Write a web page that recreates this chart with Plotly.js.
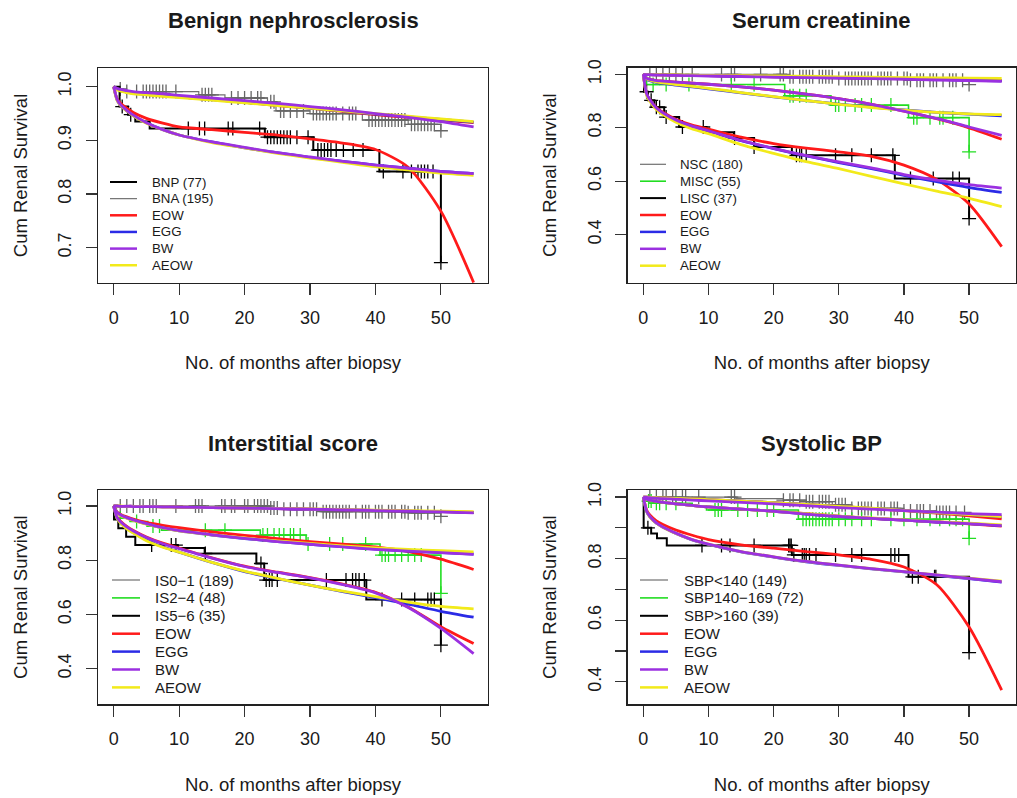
<!DOCTYPE html>
<html><head><meta charset="utf-8">
<script src="https://cdn.plot.ly/plotly-3.0.1.min.js"></script>
<style>html,body{margin:0;padding:0;background:#fff;} #chart{width:1017px;height:798px;}</style>
</head><body><div id="chart"></div>
<script>
// ---------------- DATA ----------------
const T = [0, 0.5, 1, 2, 3, 5, 7.5, 10, 15, 20, 25, 30, 35, 40, 45, 50, 55];
const modelNames = ["EOW", "EGG", "BW", "AEOW"];

// Panel 1: Benign nephrosclerosis
const p1Title = "Benign nephrosclerosis";
const p1Groups = ["BNP (77)", "BNA (195)"];
const bnpTime = [0, 0.9, 2.2, 3.3, 5.5, 23.1, 30.5, 40.6, 50];
const bnpSurv = [1, 0.963, 0.948, 0.935, 0.922, 0.906, 0.882, 0.842, 0.672];
const bnpCens = [1.3, 2.6, 11.4, 13.1, 13.9, 17.5, 18.2, 22.3, 23.5, 24, 24.5, 25, 25.5, 26, 26.5, 27, 28, 29.7, 31.2, 31.7, 32.2, 32.7, 33.2, 34, 35.1, 36.6, 38.1, 41.2, 44.2, 45.5, 46.5, 47, 47.5, 48, 48.8, 50];
const bnaTime = [0, 0.5, 1.5, 13, 17, 23.5, 24.8, 30, 38, 45, 50];
const bnaSurv = [1, 0.996, 0.991, 0.985, 0.979, 0.972, 0.955, 0.950, 0.938, 0.930, 0.918];
const bnaCens = [1, 2, 3.5, 4.5, 5, 5.5, 6, 6.5, 7, 7.5, 8, 9.5, 13.5, 14, 14.5, 15, 18, 19, 20, 21, 22, 22.5, 24, 24.5, 25.5, 26, 27, 28, 29, 30.5, 31, 31.5, 32, 32.5, 33, 33.5, 34, 35, 36, 36.5, 37, 39, 39.5, 40, 40.5, 41, 41.5, 42, 42.5, 43, 43.5, 44, 44.5, 45.5, 46, 46.5, 47, 47.5, 48, 48.5, 49, 50];
const bnpEOW  = [1, 0.978, 0.970, 0.960, 0.952, 0.941, 0.932, 0.925, 0.920, 0.915, 0.910, 0.903, 0.895, 0.883, 0.850, 0.768, 0.635];
const bnpEGG  = [1, 0.976, 0.966, 0.955, 0.946, 0.933, 0.920, 0.910, 0.897, 0.886, 0.877, 0.868, 0.861, 0.854, 0.848, 0.842, 0.838];
const bnpBW   = [1, 0.977, 0.967, 0.956, 0.947, 0.933, 0.920, 0.910, 0.897, 0.887, 0.877, 0.869, 0.861, 0.854, 0.848, 0.842, 0.838];
const bnpAEOW = [1, 0.975, 0.966, 0.955, 0.946, 0.932, 0.920, 0.910, 0.896, 0.886, 0.876, 0.867, 0.859, 0.851, 0.845, 0.839, 0.835];
const bnaEOW  = [1, 0.996, 0.993, 0.990, 0.988, 0.986, 0.983, 0.981, 0.976, 0.971, 0.965, 0.960, 0.954, 0.948, 0.943, 0.938, 0.933];
const bnaEGG  = [1, 0.996, 0.993, 0.990, 0.988, 0.986, 0.984, 0.981, 0.976, 0.971, 0.966, 0.960, 0.955, 0.949, 0.944, 0.939, 0.934];
const bnaBW   = [1, 0.997, 0.995, 0.993, 0.991, 0.989, 0.987, 0.984, 0.979, 0.974, 0.969, 0.963, 0.957, 0.950, 0.943, 0.935, 0.925];
const bnaAEOW = [1, 0.995, 0.992, 0.989, 0.987, 0.985, 0.982, 0.980, 0.975, 0.970, 0.965, 0.960, 0.955, 0.950, 0.945, 0.940, 0.935];

// Panel 2: Serum creatinine
const p2Title = "Serum creatinine";
const p2Groups = ["NSC (180)", "MISC (55)", "LISC (37)"];
const nscTime = [0, 22, 30, 41, 50];
const nscSurv = [1, 0.991, 0.985, 0.978, 0.962];
const nscCens = [1, 2, 3, 4, 5, 6, 7.5, 12, 13.5, 14, 18, 21, 21.5, 22.5, 23, 24, 24.5, 25, 25.5, 26, 27, 27.5, 28, 28.5, 29, 30, 31, 31.5, 32, 32.5, 33, 33.5, 34, 34.5, 35, 36, 36.5, 37, 37.5, 38, 39, 40, 40.5, 41, 42, 42.5, 43, 44, 44.5, 45, 46, 47, 47.5, 48, 49, 50];
const miscTime = [0, 0.5, 21.7, 28.8, 40.7, 50];
const miscSurv = [1, 0.962, 0.920, 0.885, 0.838, 0.710];
const miscCens = [1.5, 3.5, 7, 13.5, 17, 22.5, 23, 24, 25, 29.5, 30, 31, 32.5, 33.5, 35, 38, 41.5, 42, 44, 45.5, 46, 47.5, 50];
const liscTime = [0, 0.1, 0.7, 1.7, 3.2, 5.5, 9.7, 13.9, 17, 22.8, 38.6, 50];
const liscSurv = [1, 0.935, 0.903, 0.877, 0.840, 0.803, 0.783, 0.762, 0.728, 0.697, 0.610, 0.460];
const liscCens = [0.5, 1.2, 2, 2.5, 3.5, 6, 9.2, 14, 17, 23.5, 24, 24.3, 25, 29.5, 32, 35, 38.3, 41, 44.5, 47.5, 48.5, 50];
const nscEOW  = [1, 0.999, 0.999, 0.998, 0.998, 0.997, 0.996, 0.995, 0.993, 0.991, 0.989, 0.987, 0.985, 0.983, 0.981, 0.979, 0.977];
const nscEGG  = [1, 0.999, 0.999, 0.998, 0.998, 0.997, 0.996, 0.995, 0.993, 0.991, 0.989, 0.987, 0.985, 0.983, 0.981, 0.978, 0.976];
const nscBW   = [1, 0.999, 0.999, 0.998, 0.997, 0.996, 0.995, 0.994, 0.992, 0.990, 0.988, 0.986, 0.984, 0.982, 0.979, 0.977, 0.974];
const nscAEOW = [1, 0.999, 0.999, 0.999, 0.998, 0.998, 0.997, 0.996, 0.995, 0.994, 0.993, 0.991, 0.990, 0.988, 0.987, 0.986, 0.985];
const miscEOW  = [1, 0.985, 0.981, 0.977, 0.975, 0.971, 0.967, 0.963, 0.953, 0.941, 0.926, 0.909, 0.888, 0.862, 0.834, 0.800, 0.757];
const miscEGG  = [1, 0.982, 0.976, 0.970, 0.966, 0.960, 0.953, 0.946, 0.931, 0.916, 0.902, 0.889, 0.877, 0.867, 0.858, 0.851, 0.845];
const miscBW   = [1, 0.985, 0.981, 0.977, 0.975, 0.971, 0.967, 0.963, 0.953, 0.941, 0.926, 0.909, 0.888, 0.862, 0.835, 0.803, 0.772];
const miscAEOW = [1, 0.984, 0.978, 0.972, 0.968, 0.962, 0.955, 0.948, 0.932, 0.917, 0.902, 0.888, 0.876, 0.866, 0.858, 0.852, 0.849];
const liscEOW  = [1, 0.928, 0.906, 0.876, 0.858, 0.832, 0.810, 0.795, 0.765, 0.741, 0.724, 0.710, 0.693, 0.660, 0.607, 0.515, 0.355];
const liscEGG  = [1, 0.926, 0.904, 0.873, 0.855, 0.828, 0.805, 0.788, 0.752, 0.722, 0.695, 0.670, 0.647, 0.622, 0.598, 0.576, 0.558];
const liscBW   = [1, 0.927, 0.905, 0.874, 0.856, 0.829, 0.806, 0.789, 0.753, 0.723, 0.696, 0.672, 0.650, 0.625, 0.604, 0.587, 0.574];
const liscAEOW = [1, 0.922, 0.899, 0.868, 0.849, 0.821, 0.796, 0.778, 0.737, 0.704, 0.673, 0.647, 0.618, 0.590, 0.563, 0.536, 0.505];

// Panel 3: Interstitial score
const p3Title = "Interstitial score";
const p3Groups = ["IS0\u22121 (189)", "IS2\u22124 (48)", "IS5\u22126 (35)"];
const is01Time = [0, 23.8, 26, 31.8, 45, 50];
const is01Surv = [1, 0.993, 0.988, 0.979, 0.975, 0.962];
const is01Cens = [1, 2, 3, 4, 4.5, 5.5, 6, 6.5, 9.5, 12.5, 13, 13.5, 16.5, 17, 18, 18.5, 20, 20.5, 21.5, 22, 22.5, 23, 23.5, 24, 24.5, 25, 26, 27, 28, 29, 30, 30.5, 31, 32, 32.5, 33, 33.5, 34, 34.5, 35, 35.5, 36, 37, 38, 38.5, 39, 40, 40.5, 41, 42, 42.5, 43, 44, 44.5, 45, 46, 46.5, 47, 48, 49, 50];
const is24Time = [0, 0.4, 2.5, 5.2, 7.3, 22.4, 29.4, 40.7, 50];
const is24Surv = [1, 0.955, 0.943, 0.926, 0.911, 0.893, 0.860, 0.819, 0.678];
const is24Cens = [1, 3.5, 6, 7, 14, 17, 22.8, 23.5, 24.5, 25.3, 26, 27, 27.5, 28.5, 29.7, 33, 35, 38.5, 41, 41.5, 42, 43, 44, 45, 46, 47, 50];
const is56Time = [0, 0.05, 0.7, 1.9, 3.3, 9.8, 13.9, 21.8, 23, 38.6, 50];
const is56Surv = [1, 0.950, 0.918, 0.887, 0.856, 0.845, 0.825, 0.788, 0.727, 0.655, 0.487];
const is56Cens = [5.8, 8.8, 9.5, 14, 22.5, 23.3, 23.8, 24.2, 25, 32.5, 35.5, 36.5, 37, 37.5, 38.3, 41, 44, 46, 48, 48.5, 49, 50];
const is01EOW  = [1, 1, 0.999, 0.999, 0.999, 0.998, 0.997, 0.996, 0.994, 0.992, 0.990, 0.988, 0.986, 0.984, 0.981, 0.979, 0.976];
const is01EGG  = [1, 1, 0.999, 0.999, 0.999, 0.998, 0.997, 0.996, 0.994, 0.992, 0.990, 0.988, 0.986, 0.984, 0.981, 0.979, 0.976];
const is01BW   = [1, 1, 0.999, 0.999, 0.998, 0.998, 0.997, 0.996, 0.994, 0.992, 0.990, 0.988, 0.986, 0.983, 0.981, 0.978, 0.975];
const is01AEOW = [1, 1, 1, 0.999, 0.999, 0.998, 0.997, 0.996, 0.994, 0.992, 0.991, 0.989, 0.987, 0.985, 0.983, 0.981, 0.979];
const is24EOW  = [1, 0.978, 0.970, 0.960, 0.952, 0.940, 0.929, 0.920, 0.905, 0.892, 0.880, 0.869, 0.859, 0.849, 0.832, 0.804, 0.766];
const is24EGG  = [1, 0.975, 0.967, 0.956, 0.948, 0.934, 0.919, 0.908, 0.893, 0.880, 0.869, 0.859, 0.850, 0.841, 0.834, 0.828, 0.823];
const is24BW   = [1, 0.976, 0.968, 0.957, 0.949, 0.935, 0.920, 0.909, 0.894, 0.881, 0.869, 0.859, 0.849, 0.840, 0.834, 0.828, 0.822];
const is24AEOW = [1, 0.975, 0.966, 0.955, 0.947, 0.933, 0.919, 0.908, 0.894, 0.882, 0.871, 0.862, 0.853, 0.846, 0.840, 0.835, 0.831];
const is56EOW  = [1, 0.960, 0.945, 0.925, 0.910, 0.886, 0.863, 0.845, 0.809, 0.778, 0.756, 0.736, 0.712, 0.682, 0.628, 0.555, 0.493];
const is56EGG  = [1, 0.955, 0.940, 0.918, 0.902, 0.875, 0.850, 0.830, 0.792, 0.758, 0.732, 0.708, 0.684, 0.662, 0.638, 0.612, 0.590];
const is56BW   = [1, 0.958, 0.943, 0.923, 0.908, 0.884, 0.861, 0.843, 0.808, 0.777, 0.755, 0.735, 0.710, 0.680, 0.626, 0.549, 0.456];
const is56AEOW = [1, 0.955, 0.938, 0.916, 0.900, 0.872, 0.848, 0.830, 0.792, 0.760, 0.733, 0.708, 0.686, 0.666, 0.646, 0.630, 0.621];

// Panel 4: Systolic BP
const p4Title = "Systolic BP";
const p4Groups = ["SBP<140 (149)", "SBP140\u2212169 (72)", "SBP>160 (39)"];
const sbp1Time = [0, 14.2, 21.5, 25, 29, 32, 39.7, 45];
const sbp1Surv = [1, 0.995, 0.990, 0.985, 0.975, 0.963, 0.955, 0.950];
const sbp1Cens = [1, 2, 3, 3.5, 4.5, 5, 6, 6.5, 8.5, 13.5, 14, 21.5, 22.5, 23, 24, 25, 25.5, 26, 27, 27.5, 28, 28.5, 29.5, 30, 30.5, 31, 32, 33, 33.5, 34, 34.5, 35, 36, 36.5, 37, 38, 38.5, 39, 40, 41, 42, 42.5, 43, 44, 45, 45.5, 46, 46.5, 47, 48, 49.3];
const sbp2Time = [0, 0.3, 1.5, 7.5, 9.7, 23.8, 50];
const sbp2Surv = [1, 0.987, 0.980, 0.972, 0.958, 0.928, 0.866];
const sbp2Cens = [0.8, 1.2, 2, 2.5, 3.5, 5, 11, 11.5, 12, 14.5, 16, 17.5, 19, 20, 24.5, 25, 25.5, 26, 26.5, 27, 27.5, 28, 28.5, 29, 30, 31, 32, 33.5, 35, 38, 40, 42, 44, 45.5, 47, 48, 49, 50];
const sbp3Time = [0, 0.05, 1.2, 2.1, 3.6, 22.8, 40.7, 50];
const sbp3Surv = [1, 0.900, 0.882, 0.866, 0.843, 0.812, 0.741, 0.495];
const sbp3Cens = [0.7, 9, 12, 13.3, 17, 22.3, 22.5, 22.7, 23.1, 24.4, 24.7, 25, 25.5, 26.5, 29.5, 32, 33.5, 38, 38.6, 39.2, 41.3, 42.2, 44.7, 44.9, 50];
const sbp1EOW  = [1, 1, 0.999, 0.998, 0.997, 0.996, 0.994, 0.992, 0.987, 0.982, 0.976, 0.970, 0.963, 0.956, 0.948, 0.939, 0.929];
const sbp1EGG  = [1, 1, 0.999, 0.998, 0.997, 0.996, 0.994, 0.992, 0.987, 0.982, 0.976, 0.970, 0.963, 0.957, 0.950, 0.943, 0.936];
const sbp1BW   = [1, 0.999, 0.998, 0.996, 0.995, 0.993, 0.990, 0.988, 0.983, 0.978, 0.972, 0.966, 0.961, 0.956, 0.951, 0.946, 0.943];
const sbp1AEOW = [1, 1, 0.999, 0.998, 0.997, 0.996, 0.994, 0.992, 0.987, 0.982, 0.976, 0.970, 0.964, 0.957, 0.950, 0.943, 0.937];
const sbp2EOW  = [1, 0.993, 0.990, 0.986, 0.983, 0.978, 0.973, 0.968, 0.961, 0.954, 0.946, 0.938, 0.931, 0.925, 0.919, 0.913, 0.906];
const sbp2EGG  = [1, 0.993, 0.990, 0.986, 0.983, 0.978, 0.973, 0.968, 0.961, 0.954, 0.945, 0.937, 0.931, 0.925, 0.919, 0.914, 0.907];
const sbp2BW   = [1, 0.993, 0.990, 0.986, 0.983, 0.978, 0.973, 0.968, 0.961, 0.954, 0.945, 0.937, 0.931, 0.925, 0.919, 0.914, 0.907];
const sbp2AEOW = [1, 0.993, 0.990, 0.986, 0.983, 0.978, 0.973, 0.968, 0.961, 0.954, 0.946, 0.938, 0.932, 0.926, 0.920, 0.915, 0.910];
const sbp3EOW  = [1, 0.958, 0.942, 0.923, 0.911, 0.893, 0.876, 0.862, 0.845, 0.834, 0.823, 0.812, 0.798, 0.773, 0.716, 0.578, 0.373];
const sbp3EGG  = [1, 0.953, 0.936, 0.915, 0.902, 0.882, 0.861, 0.846, 0.822, 0.805, 0.790, 0.778, 0.767, 0.757, 0.746, 0.735, 0.724];
const sbp3BW   = [1, 0.955, 0.937, 0.916, 0.903, 0.883, 0.862, 0.847, 0.823, 0.806, 0.791, 0.779, 0.768, 0.758, 0.747, 0.736, 0.725];
const sbp3AEOW = [1, 0.954, 0.936, 0.915, 0.902, 0.882, 0.862, 0.847, 0.823, 0.806, 0.791, 0.779, 0.768, 0.758, 0.747, 0.737, 0.727];

const xTicks = [0, 10, 20, 30, 40, 50];
const xTitle = "No. of months after biopsy";
const yTitle = "Cum Renal Survival";

// ---------------- STYLE ----------------
const W = 1017, H = 798;
const FONT = "Liberation Sans, Arial, Helvetica, sans-serif";
const TXT = "#1a1a1a";
const C = {black: "#000000", gray: "#707070", green: "#22DD22", EOW: "#FF1A1A", EGG: "#2B2BE6", BW: "#9B30E0", AEOW: "#F2EA1A"};
const MW = {EOW: 2.8, EGG: 2.8, BW: 2.8, AEOW: 2.8};

const px2x = p => p / W;
const px2y = p => 1 - p / H;

function stepAt(times, surv, t) {
  let s = surv[0];
  for (let i = 0; i < times.length; i++) if (times[i] <= t) s = surv[i];
  return s;
}

const traces = [];
function addKM(ax, times, surv, cens, color, width, markColor) {
  const x = times.slice(), y = surv.slice();
  const last = cens.length ? cens[cens.length - 1] : x[x.length - 1];
  if (last > x[x.length - 1]) { x.push(last); y.push(y[y.length - 1]); }
  traces.push({type: "scatter", mode: "lines", x: x, y: y, xaxis: "x" + ax, yaxis: "y" + ax,
    line: {color: color, width: width, shape: "hv"}, hoverinfo: "skip", showlegend: false});
  traces.push({type: "scatter", mode: "markers", x: cens, y: cens.map(c => stepAt(times, surv, c)),
    xaxis: "x" + ax, yaxis: "y" + ax, hoverinfo: "skip", showlegend: false,
    marker: {symbol: "cross-thin", size: 10, line: {width: 1.3, color: markColor}}});
}
function addFits(ax, fits) {
  ["EOW", "EGG", "AEOW", "BW"].forEach(m => {
    fits.forEach(f => {
      traces.push({type: "scatter", mode: "lines", x: T, y: f[m], xaxis: "x" + ax, yaxis: "y" + ax,
        line: {color: C[m], width: MW[m], shape: "spline", smoothing: 0.7}, hoverinfo: "skip", showlegend: false});
    });
  });
}

// Panel 1
addKM("", bnaTime, bnaSurv, bnaCens, C.gray, 1.2, "#666666");
addKM("", bnpTime, bnpSurv, bnpCens, C.black, 2, "#000000");
addFits("", [{EOW: bnaEOW, EGG: bnaEGG, BW: bnaBW, AEOW: bnaAEOW}, {EOW: bnpEOW, EGG: bnpEGG, BW: bnpBW, AEOW: bnpAEOW}]);
// Panel 2
addKM("2", nscTime, nscSurv, nscCens, C.gray, 1.2, "#666666");
addKM("2", miscTime, miscSurv, miscCens, C.green, 1.6, C.green);
addKM("2", liscTime, liscSurv, liscCens, C.black, 2, "#000000");
addFits("2", [{EOW: nscEOW, EGG: nscEGG, BW: nscBW, AEOW: nscAEOW}, {EOW: miscEOW, EGG: miscEGG, BW: miscBW, AEOW: miscAEOW}, {EOW: liscEOW, EGG: liscEGG, BW: liscBW, AEOW: liscAEOW}]);
// Panel 3
addKM("3", is01Time, is01Surv, is01Cens, C.gray, 1.2, "#666666");
addKM("3", is24Time, is24Surv, is24Cens, C.green, 1.6, C.green);
addKM("3", is56Time, is56Surv, is56Cens, C.black, 2, "#000000");
addFits("3", [{EOW: is01EOW, EGG: is01EGG, BW: is01BW, AEOW: is01AEOW}, {EOW: is24EOW, EGG: is24EGG, BW: is24BW, AEOW: is24AEOW}, {EOW: is56EOW, EGG: is56EGG, BW: is56BW, AEOW: is56AEOW}]);
// Panel 4
addKM("4", sbp1Time, sbp1Surv, sbp1Cens, C.gray, 1.2, "#666666");
addKM("4", sbp2Time, sbp2Surv, sbp2Cens, C.green, 1.6, C.green);
addKM("4", sbp3Time, sbp3Surv, sbp3Cens, C.black, 2, "#000000");
addFits("4", [{EOW: sbp1EOW, EGG: sbp1EGG, BW: sbp1BW, AEOW: sbp1AEOW}, {EOW: sbp2EOW, EGG: sbp2EGG, BW: sbp2BW, AEOW: sbp2AEOW}, {EOW: sbp3EOW, EGG: sbp3EGG, BW: sbp3BW, AEOW: sbp3AEOW}]);

const panels = [
  {ax: "", box: [98, 488, 68, 283], yr: [0.634, 1.035], yt: [0.7, 0.8, 0.9, 1.0], ytt: ["0.7", "0.8", "0.9", "1.0"], title: p1Title, ty: 21,
   leg: p1Groups, legC: [C.black, C.gray], legW: [2, 1.2], lx0: 110, lx1: 137, tx: 150, ly0: 182, lstep: 16.65, lfs: 13.3},
  {ax: "2", box: [627.7, 1016, 67.7, 282.7], yr: [0.22, 1.025], yt: [0.4, 0.6, 0.8, 1.0], ytt: ["0.4", "0.6", "0.8", "1.0"], title: p2Title, ty: 21,
   leg: p2Groups, legC: [C.gray, C.green, C.black], legW: [1.2, 1.6, 2], lx0: 640, lx1: 666, tx: 678, ly0: 164.3, lstep: 16.9, lfs: 13.3},
  {ax: "3", box: [98, 488, 490, 704.3], yr: [0.269, 1.059], yt: [0.4, 0.6, 0.8, 1.0], ytt: ["0.4", "0.6", "0.8", "1.0"], title: p3Title, ty: 443,
   leg: p3Groups, legC: [C.gray, C.green, C.black], legW: [1.2, 1.6, 2], lx0: 112, lx1: 140, tx: 153, ly0: 580, lstep: 17.9, lfs: 15},
  {ax: "4", box: [627.7, 1016, 490, 704.3], yr: [0.327, 1.023], yt: [0.4, 0.5, 0.6, 0.7, 0.8, 0.9, 1.0], ytt: ["0.4", "", "0.6", "", "0.8", "", "1.0"], title: p4Title, ty: 443,
   leg: p4Groups, legC: [C.gray, C.green, C.black], legW: [1.2, 1.6, 2], lx0: 640, lx1: 668, tx: 682, ly0: 580, lstep: 17.9, lfs: 15}
];

const layout = {
  width: W, height: H, margin: {l: 0, r: 0, t: 0, b: 0},
  paper_bgcolor: "#ffffff", plot_bgcolor: "#ffffff", showlegend: false,
  font: {family: FONT, color: TXT},
  annotations: [], shapes: []
};

panels.forEach(p => {
  const [x0, x1, y0, y1] = p.box;
  layout["xaxis" + p.ax] = {
    domain: [px2x(x0), px2x(x1)], range: [-2.4, 57.2], anchor: "y" + p.ax,
    tickvals: xTicks, ticks: "outside", ticklen: 11, tickwidth: 1.2, tickcolor: "#333",
    showline: true, mirror: true, linecolor: "#222", linewidth: 1.4,
    showgrid: false, zeroline: false, tickfont: {size: 18, family: FONT, color: TXT}, ticklabelstandoff: 7,
    title: {text: xTitle, font: {size: 18.5, family: FONT, color: TXT}, standoff: 29}
  };
  layout["yaxis" + p.ax] = {
    domain: [px2y(y1), px2y(y0)], range: p.yr, anchor: "x" + p.ax,
    tickvals: p.yt, ticktext: p.ytt, tickangle: -90, ticks: "outside", ticklen: 11, tickwidth: 1.2, tickcolor: "#333",
    showline: true, mirror: true, linecolor: "#222", linewidth: 1.4,
    showgrid: false, zeroline: false, tickfont: {size: 18, family: FONT, color: TXT}, ticklabelstandoff: 7,
    title: {text: yTitle, font: {size: 18.5, family: FONT, color: TXT}, standoff: 23}
  };
  layout.annotations.push({text: "<b>" + p.title + "</b>", xref: "paper", yref: "paper",
    x: px2x((x0 + x1) / 2), y: px2y(p.ty), xanchor: "center", yanchor: "middle", showarrow: false,
    font: {size: 22, family: FONT, color: TXT}});
  const labels = p.leg.concat(modelNames);
  const colors = p.legC.concat(modelNames.map(m => C[m]));
  const widths = p.legW.concat(modelNames.map(m => 2.5));
  labels.forEach((lab, i) => {
    const yy = p.ly0 + i * p.lstep;
    layout.shapes.push({type: "line", xref: "paper", yref: "paper", x0: px2x(p.lx0), x1: px2x(p.lx1), y0: px2y(yy), y1: px2y(yy),
      line: {color: colors[i], width: widths[i]}});
    layout.annotations.push({text: lab, xref: "paper", yref: "paper", x: px2x(p.tx), y: px2y(yy), xanchor: "left", yanchor: "middle",
      showarrow: false, font: {size: p.lfs, family: FONT, color: TXT}});
  });
});

Plotly.newPlot("chart", traces, layout, {staticPlot: true, displayModeBar: false});
</script>
</body></html>
